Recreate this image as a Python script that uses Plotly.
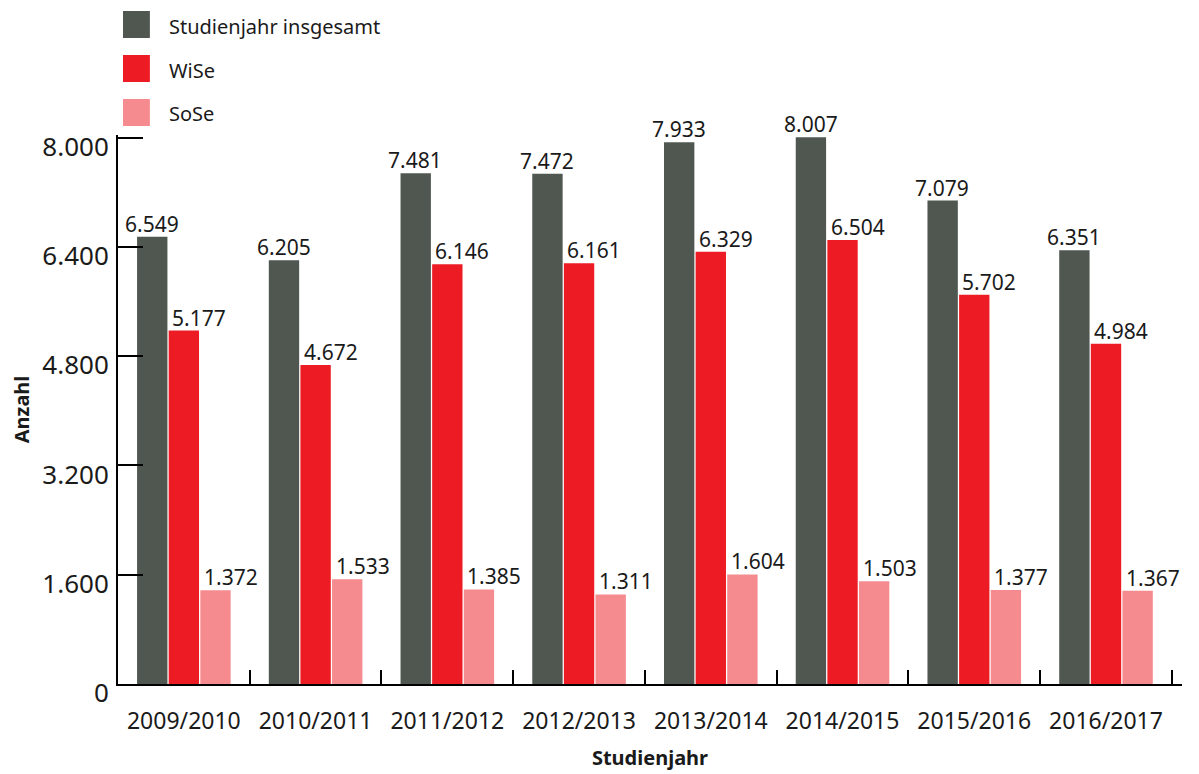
import plotly.graph_objects as go

jahre = ["2009/2010", "2010/2011", "2011/2012", "2012/2013",
         "2013/2014", "2014/2015", "2015/2016", "2016/2017"]
insgesamt = [6549, 6205, 7481, 7472, 7933, 8007, 7079, 6351]
wise = [5177, 4672, 6146, 6161, 6329, 6504, 5702, 4984]
sose = [1372, 1533, 1385, 1311, 1604, 1503, 1377, 1367]

serien = [
    ("Studienjahr insgesamt", insgesamt, "#4f5750"),
    ("WiSe", wise, "#ed1c24"),
    ("SoSe", sose, "#f58b8f"),
]

FONT = "Noto Sans"

# Plotbereich in Pixeln (Seite hat 8px Rand)
L, T, PW, PH = 106, 127, 1068, 549

fig = go.Figure()
for name, werte, farbe in serien:
    fig.add_trace(go.Bar(x=jahre, y=werte, name=name, marker_color=farbe,
                         marker_line_width=0, cliponaxis=False, showlegend=False))

# Datenbeschriftungen: dunkle zentriert, rote/rosa linksbündig an der Balkenkante
versatz = [(-32, "center"), (-14, "left"), (18, "left")]
for (name, werte, farbe), (dx, anchor) in zip(serien, versatz):
    for j, v in zip(jahre, werte):
        fig.add_annotation(x=j, y=v, text=f"{v:,}".replace(",", "."), showarrow=False,
                           xanchor=anchor, yanchor="bottom", xshift=dx, yshift=-3,
                           font=dict(family=FONT, size=21, color="#1a1a1a"))

# Legende von Hand (große Quadrate)
for i, (name, werte, farbe) in enumerate(serien):
    y0 = 3 + i * 44
    fig.add_shape(type="rect", xref="paper", yref="paper",
                  x0=(111 - L) / PW, x1=(138 - L) / PW,
                  y0=(T + PH - (y0 + 27)) / PH, y1=(T + PH - y0) / PH,
                  fillcolor=farbe, line_width=0)
    fig.add_annotation(xref="paper", yref="paper", x=(155 - L) / PW,
                       y=(T + PH - (y0 + 15)) / PH, text=name, showarrow=False,
                       xanchor="left", yanchor="middle",
                       font=dict(family=FONT, size=20, color="#1a1a1a"))

fig.update_layout(
    barmode="group",
    bargap=0.28,
    bargroupgap=0.04,
    separators=",.",
    width=1199,
    height=774,
    margin=dict(l=L, r=1199 - L - PW, t=T, b=774 - T - PH),
    plot_bgcolor="white",
    paper_bgcolor="white",
    font=dict(family=FONT, color="#1a1a1a"),
)
fig.update_xaxes(
    showline=True, linecolor="black", linewidth=2,
    ticks="inside", tickson="boundaries", ticklen=14, tickwidth=2, tickcolor="black",
    tickfont=dict(family=FONT, size=23), ticklabelstandoff=15,
    title=dict(text="<b>Studienjahr</b>", font=dict(family=FONT, size=20), standoff=16),
    showgrid=False,
)
fig.update_yaxes(
    range=[0, 8040], tickvals=[0, 1600, 3200, 4800, 6400, 8000], tickformat=",",
    showline=True, linecolor="black", linewidth=2,
    ticks="inside", ticklen=25, tickwidth=2, tickcolor="black",
    tickfont=dict(family=FONT, size=26), ticklabelstandoff=2, ticklabelshift=9,
    title=dict(text="<b>Anzahl</b>", font=dict(family=FONT, size=20), standoff=8),
    showgrid=False, zeroline=False,
)

fig.write_html("out.html")
